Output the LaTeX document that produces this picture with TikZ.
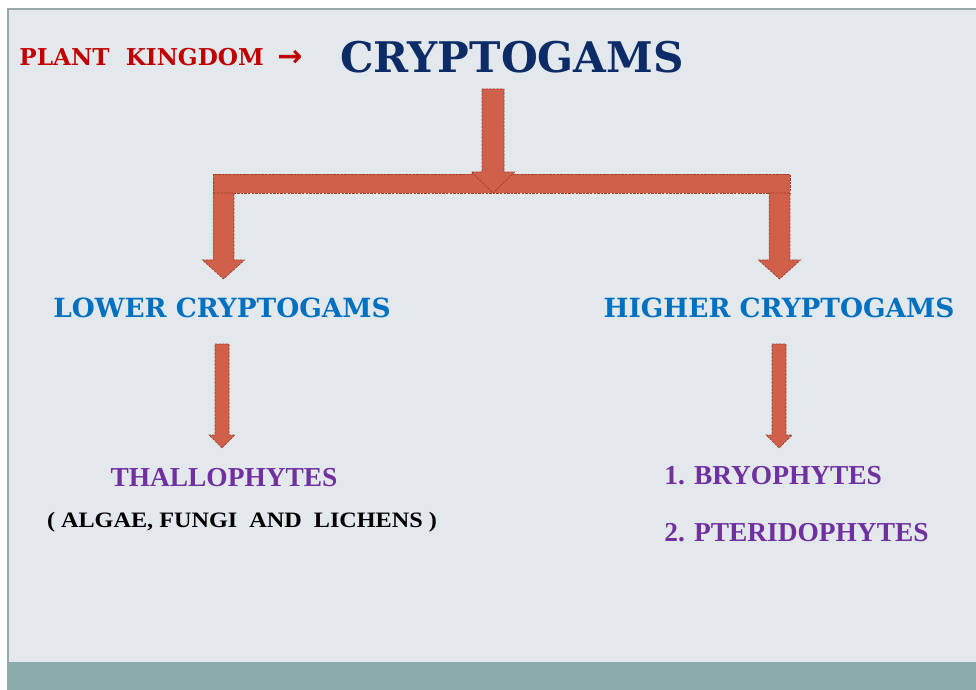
\documentclass[tikz,border=0pt]{standalone}
\usepackage{fontspec}
\usepackage{xcolor}
\usetikzlibrary{positioning,calc}
\newfontfamily\headfont{DejaVu Serif}
\newfontfamily\subfont{Liberation Serif}
\newfontfamily\widefont[FakeStretch=1.1]{Liberation Serif}
\newfontfamily\symfont{DejaVu Sans}
\definecolor{panel}{HTML}{E3E8EC}
\definecolor{band}{HTML}{8AACAC}
\definecolor{frame}{HTML}{9AA8A8}
\definecolor{kingred}{HTML}{C00000}
\definecolor{navy}{HTML}{0D2B66}
\definecolor{headblue}{HTML}{0070C0}
\definecolor{groupviolet}{HTML}{7030A0}
\definecolor{arrowfill}{HTML}{D0604A}
\definecolor{arrowline}{HTML}{9C3E2C}
\tikzset{
  every picture/.style={line join=miter},
  txt/.style={inner sep=0pt, font=\headfont\bfseries},
  title/.style={txt, text=navy, font=\headfont\bfseries\fontsize{21.1}{25}\selectfont},
  kingdom/.style={txt, text=kingred, font=\headfont\bfseries\fontsize{11.6}{13}\selectfont},
  division/.style={txt, text=headblue, font=\headfont\bfseries\fontsize{13.2}{16}\selectfont},
  group/.style={txt, text=groupviolet, font=\subfont\bfseries\fontsize{13.7}{16}\selectfont},
  members/.style={txt, text=black, font=\widefont\bfseries\fontsize{11}{12}\selectfont},
  blockarrow/.style={fill=arrowfill, draw=arrowline, line width=0.35pt, dash pattern=on 1.2pt off 0.6pt},
}
% #1 start, #2 tip, #3 shaft half width, #4 head half width, #5 head length (all in pt)
\newcommand\blockdown[5]{%
  \draw[blockarrow] let \p1=(#1), \p2=(#2) in
    (\x1-#3,\y1) -- (\x1+#3,\y1) -- (\x1+#3,\y2+#5) -- (\x1+#4,\y2+#5) -- (\x1,\y2)
    -- (\x1-#4,\y2+#5) -- (\x1-#3,\y2+#5) -- cycle;}

\begin{document}
\begin{tikzpicture}[x=0.5pt,y=-0.5pt]
\useasboundingbox (0,0) rectangle (976,690);
\fill[white] (0,0) rectangle (976,690);
\fill[panel] (8,9) rectangle (976,662);
\fill[band] (8,662) rectangle (976,690);
\draw[frame,line width=0.6pt] (8,690)--(8,9)--(976,9);
% headings
\node[kingdom,anchor=base west] (plant) at (19,66) {PLANT~~KINGDOM};
\node[kingdom,font=\symfont\bfseries\fontsize{15}{15}\selectfont] (kingarrow) at (290,58) {→};
\node[title,anchor=base west] (crypto) at (340,73) {CRYPTOGAMS};
\node[division,anchor=base] (lower) at (222,317) {LOWER CRYPTOGAMS};
\node[division,anchor=base] (higher) at (779,317) {HIGHER CRYPTOGAMS};
\node[group,anchor=base] (thallo) at (224,486) {THALLOPHYTES};
\node[members,anchor=base] (algae) at (242,527) {( ALGAE,~FUNGI~~AND~~LICHENS )};
\node[group,anchor=base west] (bryo) at (664,484) {1. BRYOPHYTES};
\node[group,anchor=base west] (pterido) at (664,541) {2. PTERIDOPHYTES};
% branching arrows
\coordinate (stem) at (493,89);
\coordinate (hub) at (493,193);
\coordinate (barL) at (213,174);
\coordinate (barR) at (790,193);
\coordinate (dropL) at (223.5,193);
\coordinate (dropR) at (779.5,193);
\draw[blockarrow] (barL) rectangle (barR);
\blockdown{stem}{hub}{5.5pt}{10.8pt}{10.5pt}
\blockdown{dropL}{dropL |- 0,279}{5.2pt}{10.5pt}{9.5pt}
\blockdown{dropR}{dropR |- 0,279}{5.2pt}{10.5pt}{9.5pt}
\blockdown{lower.south |- 0,344}{lower.south |- 0,448}{3.5pt}{6.5pt}{6.5pt}
\blockdown{higher.south |- 0,344}{higher.south |- 0,448}{3.5pt}{6.5pt}{6.5pt}
\end{tikzpicture}
\end{document}
